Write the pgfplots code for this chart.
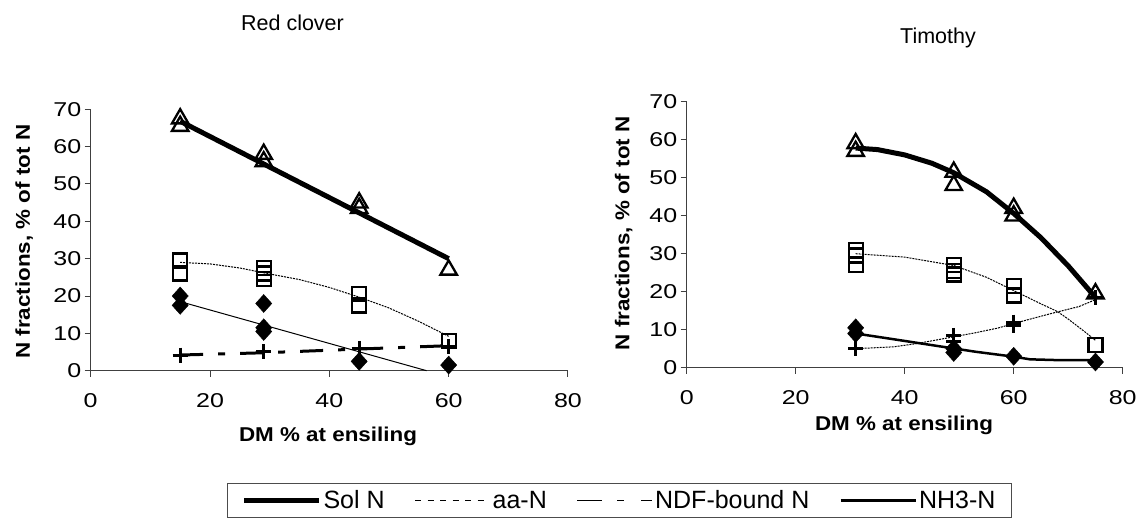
\documentclass[border=0pt]{standalone}
\usepackage{fontspec}
\setmainfont{Liberation Sans}
\newfontfamily\tickfont{Liberation Sans}[FakeStretch=1.25]
\newfontfamily\labfont{Liberation Sans}[FakeStretch=1.12]
\usepackage{pgfplots}
\pgfplotsset{compat=1.18}

\pgfplotsset{
  panel/.style={
    scale only axis, xmin=0, xmax=80, ymin=0, ymax=70,
    axis lines*=left, axis line style={black!75, line width=1pt},
    xtick={0,20,...,80}, ytick={0,10,...,70},
    tick align=outside, major tick length=6pt,
    tick style={black!75, line width=1pt},
    tick label style={font=\tickfont\fontsize{20}{24}\selectfont},
    xticklabel style={yshift=-13pt},
    /pgf/number format/assume math mode=true,
    clip=false,
  },
  solm/.style={only marks, mark=triangle, mark size=9.5pt, mark options={line width=2.3pt, solid}, black},
  aam/.style={only marks, mark=square, mark size=7pt, mark options={line width=2.3pt, solid}, black},
  ndfm/.style={only marks, mark=+, mark size=7.5pt, mark options={line width=3pt, solid}, black},
  nhm/.style={only marks, mark=diamond*, mark size=9pt, mark options={xscale=1.2, solid}, black},
  soll/.style={no marks, black, line width=5pt},
  thinl/.style={no marks, black, line width=1pt, dash pattern=on 2pt off 1pt},
}

\begin{document}
\begin{tikzpicture}
\path[use as bounding box] (0pt,0pt) rectangle (1136pt,531pt);

% Red clover
\begin{axis}[panel, at={(90.7pt,160.3pt)}, anchor=south west,
  width=477.3pt, height=261.4pt,
  legend columns=4,
  legend style={at={(0.2856,-0.4296)}, anchor=north west, draw=black!70, line width=1pt,
    font=\fontsize{25}{30}\selectfont, inner xsep=14pt, inner ysep=5pt,
    /tikz/every even column/.append style={column sep=28pt}},
  legend image code/.code={\draw[#1] (0pt,0pt) -- (75pt,0pt);},
]
\addplot[soll, forget plot] coordinates {(15,66.8) (60,30)};
\addplot[thinl, forget plot] coordinates {(15,29) (20,28.6) (25,27.5) (30,25.9) (35,24.4) (40,22.3) (45,19.7) (50,16.8) (55,13.2) (60,9.2)};
\addplot[no marks, black, line width=3pt, dash pattern=on 23pt off 15pt on 7pt off 15pt, forget plot] coordinates {(15,4.2) (29,4.8) (45,5.8) (60,6.7)};
\addplot[no marks, black, line width=1pt, forget plot] coordinates {(15,18.5) (56.3,0)};
\addplot[solm, forget plot] coordinates {(15,67.5) (15,65.5) (29,58) (29,56) (45,45) (45,43.5) (60,27)};
\addplot[aam, forget plot] coordinates {(15,29.5) (15,26) (29,27.5) (29,26) (29,24.5) (45,20.5) (45,17.5) (60,8)};
\addplot[ndfm, forget plot] coordinates {(15,4.2) (29,5.1) (45,6) (60,6.5)};
\addplot[nhm, forget plot] coordinates {(15,20) (15,17.5) (29,18) (29,11.5) (29,10.5) (45,2.5) (60,1.5)};
\addlegendimage{black, line width=5pt}
\addlegendentry{Sol N}
\addlegendimage{black, line width=1pt, dash pattern=on 6pt off 6.5pt}
\addlegendentry{aa-N}
\addlegendimage{black, line width=1.3pt, dash pattern=on 25pt off 15pt on 7pt off 17pt}
\addlegendentry{NDF-bound N}
\addlegendimage{black, line width=2.7pt}
\addlegendentry{NH3-N}
\end{axis}

% Timothy
\begin{axis}[panel, at={(686.7pt,163.3pt)}, anchor=south west,
  width=436pt, height=266pt]
\addplot[soll] coordinates {(31,57.8) (35,57.4) (40,56.0) (45,53.8) (49,51.3) (55,46.3) (60,40.6) (65,34.2) (70,26.8) (75,18.5)};
\addplot[thinl] coordinates {(31,30) (40,29.1) (49,26.9) (55,23.8) (60,20.3) (65,16.8) (68,14.8) (70,12.8) (73,9.5) (75,7.2)};
\addplot[thinl] coordinates {(31,5.0) (38,5.5) (42,6.3) (47,7.6) (53,9.2) (57,10.4) (62,12.4) (67,14.3) (72,16.1) (75,17.9)};
\addplot[no marks, black, line width=2.5pt] coordinates {(31,9) (37,7.7) (42,6.6) (47,5.5) (53,4.2) (60,2.9) (63,2.2) (68,2.0) (75,2.0)};
\addplot[solm] coordinates {(31,59) (31,57) (49,51.5) (49,48) (60,42) (60,40) (75,19.5)};
\addplot[aam] coordinates {(31,31) (31,29.5) (31,27) (49,27) (49,25.5) (49,24.5) (60,21.5) (60,19) (75,6)};
\addplot[ndfm] coordinates {(31,5) (49,8.5) (49,7) (60,12) (60,11) (75,18.5)};
\addplot[nhm] coordinates {(31,10.5) (31,9) (49,5) (49,4) (60,3) (75,1.5)};
\end{axis}

\node[anchor=base, font=\fontsize{21.5}{26}\selectfont] at (292.5pt,500.3pt) {Red clover};
\node[anchor=base, font=\fontsize{21.5}{26}\selectfont] at (938pt,487.6pt) {Timothy};
\node[anchor=base, rotate=90, font=\labfont\bfseries\fontsize{20}{24}\selectfont] at (30pt,289.3pt) {N fractions, \% of tot N};
\node[anchor=base, rotate=90, font=\labfont\bfseries\fontsize{20}{24}\selectfont] at (629.3pt,297.7pt) {N fractions, \% of tot N};
\node[anchor=base, font=\labfont\bfseries\fontsize{20}{24}\selectfont] at (328pt,89.3pt) {DM \% at ensiling};
\node[anchor=base, font=\labfont\bfseries\fontsize{20}{24}\selectfont] at (904pt,101pt) {DM \% at ensiling};
\end{tikzpicture}
\end{document}
